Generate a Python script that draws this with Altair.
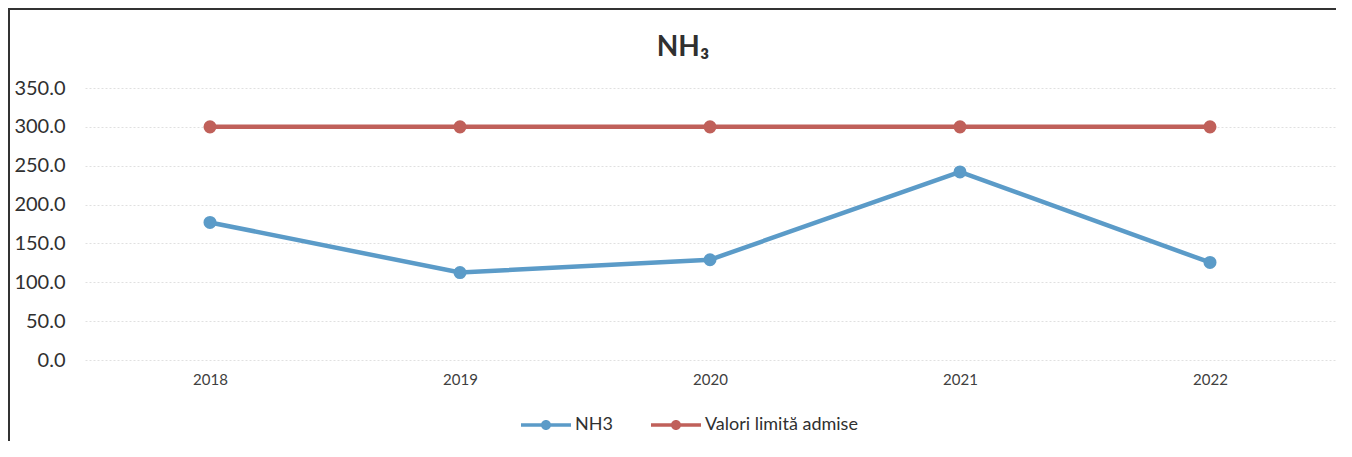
import altair as alt
import pandas as pd

years = ["2018", "2019", "2020", "2021", "2022"]
nh3 = [177.0, 112.5, 129.0, 242.0, 125.5]
limit = [300.0, 300.0, 300.0, 300.0, 300.0]
series_names = ["NH3", "Valori limită admise"]
series_colors = ["#5B9BC8", "#C0605A"]
y_ticks = [0, 50, 100, 150, 200, 250, 300, 350]

rows = []
for y, v in zip(years, nh3):
    rows.append({"An": y, "Valoare": v, "Serie": series_names[0]})
for y, v in zip(years, limit):
    rows.append({"An": y, "Valoare": v, "Serie": series_names[1]})
df = pd.DataFrame(rows)

FONT = "Lato"
x_enc = alt.X("An:N", title=None, sort=years,
              scale=alt.Scale(paddingInner=1, paddingOuter=0.5),
              axis=alt.Axis(labelAngle=0, labelFontSize=15, labelColor="#404040",
                            labelFont=FONT, ticks=False, domain=False, labelPadding=12,
                            grid=False))
y_enc = alt.Y("Valoare:Q", title=None,
              scale=alt.Scale(domain=[0, 350], nice=False),
              axis=alt.Axis(values=y_ticks, format=".1f", labelFontSize=20,
                            labelColor="#303030", labelFont=FONT, ticks=False,
                            domain=False, labelPadding=20, gridColor="#e0e0e0",
                            gridDash=[2, 2], gridWidth=1))

legend_path = ("M-1,-0.07 L1,-0.07 L1,0.07 L-1,0.07 Z "
               "M0.2,0 A0.2,0.2 0 1,1 -0.2,0 A0.2,0.2 0 1,1 0.2,0 Z")

line_layers = []
for name, col in zip(series_names, series_colors):
    line_layers.append(
        alt.Chart(df).transform_filter(alt.datum.Serie == name)
        .mark_line(strokeWidth=4.5, color=col)
        .encode(x=x_enc, y=y_enc)
    )

points = alt.Chart(df).mark_point(filled=True, size=170, opacity=1).encode(
    x=x_enc, y=y_enc,
    color=alt.Color("Serie:N", sort=series_names,
                    scale=alt.Scale(domain=series_names, range=series_colors),
                    legend=alt.Legend(title=None, orient="none", direction="horizontal",
                                      legendX=436, legendY=312,
                                      symbolType=legend_path, symbolSize=2500,
                                      symbolStrokeWidth=0, symbolOpacity=1,
                                      labelFontSize=18, labelFont=FONT,
                                      labelColor="#303030", labelOffset=4,
                                      columnPadding=38)),
)

border = alt.Chart(pd.DataFrame({"k": [0]})).mark_rule(color="#333333", strokeWidth=2).encode(
    x=alt.value(-76), x2=alt.value(-76), y=alt.value(-80), y2=alt.value(353)
)
border_top = alt.Chart(pd.DataFrame({"k": [0]})).mark_rule(color="#333333", strokeWidth=2).encode(
    x=alt.value(-76), x2=alt.value(1251), y=alt.value(-79), y2=alt.value(-79)
)

chart = alt.layer(*line_layers, points, border, border_top).properties(
    width=1250, height=272,
    autosize=alt.AutoSizeParams(type="none"),
    padding={"left": 77, "top": 80, "right": 9, "bottom": 89},
    title=alt.TitleParams("NH₃", fontSize=28, font=FONT, fontWeight="bold",
                          color="#303030", anchor="middle", dx=-27, offset=-55),
).configure(background="white").configure_view(stroke=None)

chart.save("out.html", embed_options={"renderer": "svg", "actions": False})
